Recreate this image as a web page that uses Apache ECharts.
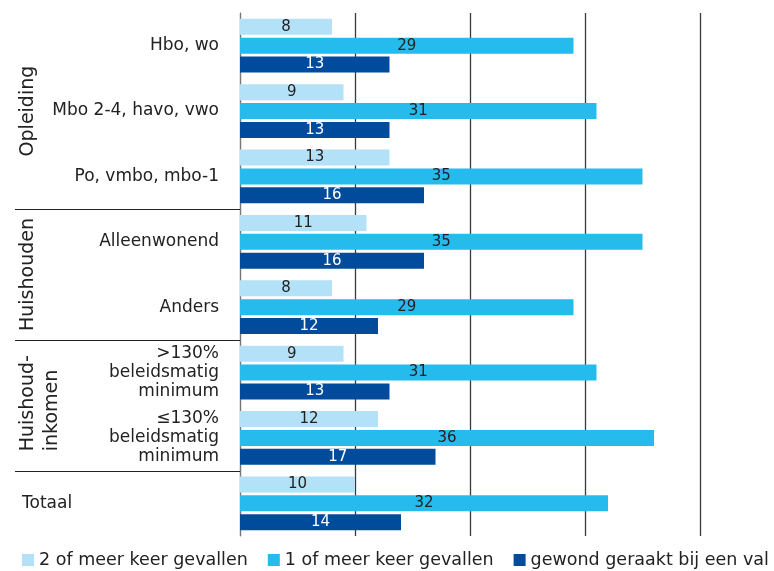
<!DOCTYPE html>
<html>
<head>
<meta charset="utf-8">
<script src="https://cdn.jsdelivr.net/npm/echarts@6/dist/echarts.min.js"></script>
<style>
html,body{margin:0;padding:0;background:#fff;}
#c{width:774px;height:571px;}
</style>
</head>
<body>
<div id="c"></div>
<script>
var categories = ['Hbo, wo', 'Mbo 2-4, havo, vwo', 'Po, vmbo, mbo-1', 'Alleenwonend', 'Anders',
  '>130%\nbeleidsmatig\nminimum', '\u2264130%\nbeleidsmatig\nminimum', 'Totaal'];
var seriesNames = ['2 of meer keer gevallen', '1 of meer keer gevallen', 'gewond geraakt bij een val'];
var tweeOfMeer = [8, 9, 13, 11, 8, 9, 12, 10];
var eenOfMeer = [29, 31, 35, 35, 29, 31, 36, 32];
var gewond = [13, 13, 16, 16, 12, 13, 17, 14];
var xTicks = [0, 10, 20, 30, 40];
var groups = [
  {name: 'Opleiding', from: 0, to: 2},
  {name: 'Huishouden', from: 3, to: 4},
  {name: 'Huishoud-\ninkomen', from: 5, to: 6},
  {name: 'Totaal', from: 7, to: 7}
];

var colors = ['#b3e1f7', '#25bbec', '#004b9b'];
var labelColors = ['#222', '#222', '#fff'];
var FONT = '"DejaVu Sans", sans-serif';

var chart = echarts.init(document.getElementById('c'));
var dataSets = [tweeOfMeer, eenOfMeer, gewond];
var series = dataSets.map(function (d, i) {
  return {
    name: seriesNames[i],
    type: 'bar',
    data: d,
    barWidth: 16,
    barGap: '18%',
    itemStyle: {color: colors[i]},
    label: {show: true, position: 'inside', fontSize: 15, fontFamily: FONT, color: labelColors[i]},
    emphasis: {disabled: true},
    animation: false
  };
});

chart.setOption({
  animation: false,
  grid: {left: 240, right: 74, top: 13, bottom: 35, containLabel: false},
  legend: {
    data: seriesNames,
    left: 17, top: 546, width: 3000,
    itemWidth: 12, itemHeight: 12, itemGap: 20,
    icon: 'rect',
    selectedMode: false,
    textStyle: {fontSize: 17.5, fontFamily: FONT, color: '#222'}
  },
  xAxis: {
    type: 'value', min: xTicks[0], max: xTicks[xTicks.length - 1], interval: 10,
    axisLabel: {show: false}, axisTick: {show: false}, axisLine: {show: false},
    splitLine: {show: true, lineStyle: {color: '#3a3a3a', width: 1.3}}
  },
  yAxis: {
    type: 'category', data: categories, inverse: true,
    axisTick: {show: false},
    axisLine: {show: true, lineStyle: {color: '#777', width: 1}},
    axisLabel: {
      fontSize: 17, fontFamily: FONT, color: '#222', lineHeight: 19, margin: 21, align: 'right',
      formatter: function (v) { return v === 'Totaal' ? '' : v; }
    }
  },
  series: series
});

function py(i) { return chart.convertToPixel({yAxisIndex: 0}, i); }
var graphics = [];
var gridLeft = 240;
for (var g = 0; g < groups.length; g++) {
  var gr = groups[g];
  var center = (py(gr.from) + py(gr.to)) / 2;
  if (gr.name === 'Totaal') {
    graphics.push({type: 'text', x: 22, y: center, style: {text: gr.name, font: '17px ' + FONT, fill: '#222', textVerticalAlign: 'middle', textAlign: 'left'}});
  } else if (gr.name.indexOf('\n') >= 0) {
    graphics.push({type: 'text', x: 40, y: center + 46, rotation: Math.PI / 2,
      style: {text: gr.name, font: '19px ' + FONT, fill: '#222', textAlign: 'left', textVerticalAlign: 'middle', lineHeight: 24}});
  } else {
    graphics.push({type: 'text', x: 28, y: center, rotation: Math.PI / 2,
      style: {text: gr.name, font: '19px ' + FONT, fill: '#222', textAlign: 'center', textVerticalAlign: 'middle'}});
  }
  if (g > 0) {
    var by = Math.round((py(gr.from - 1) + py(gr.from)) / 2) + 0.5;
    graphics.push({type: 'line', shape: {x1: 15, y1: by, x2: gridLeft, y2: by}, style: {stroke: '#222', lineWidth: 1.2}});
  }
}
chart.setOption({graphic: graphics});
</script>
</body>
</html>
